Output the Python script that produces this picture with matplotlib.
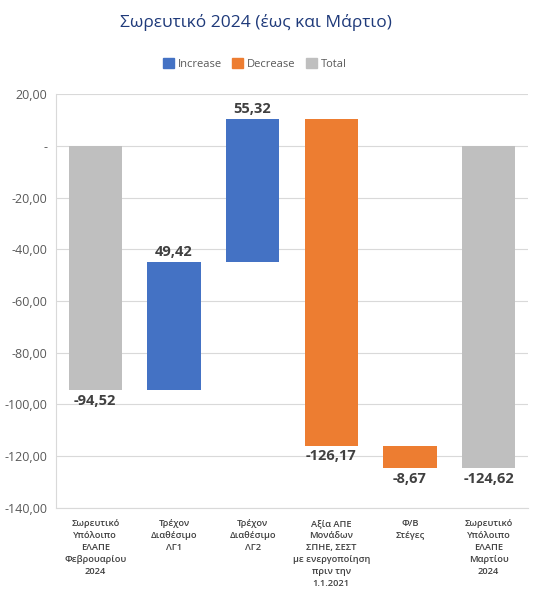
import matplotlib
matplotlib.use("Agg")
import matplotlib.pyplot as plt
import numpy as np
from matplotlib.patches import Patch

plt.rcParams['font.family'] = ['Open Sans', 'DejaVu Sans']

categories = ["Σωρευτικό\nΥπόλοιπο\nΕΛΑΠΕ\nΦεβρουαρίου\n2024",
              "Τρέχον\nΔιαθέσιμο\nΛΓ1",
              "Τρέχον\nΔιαθέσιμο\nΛΓ2",
              "Αξία ΑΠΕ\nΜονάδων\nΣΠΗΕ, ΣΕΣΤ\nμε ενεργοποίηση\nπριν την\n1.1.2021",
              "Φ/Β\nΣτέγες",
              "Σωρευτικό\nΥπόλοιπο\nΕΛΑΠΕ\nΜαρτίου\n2024"]
values = [-94.52, 49.42, 55.32, -126.17, -8.67, -124.62]
kinds = ["total", "increase", "increase", "decrease", "decrease", "total"]
yticks = [20, 0, -20, -40, -60, -80, -100, -120, -140]
ytick_labels = ["20,00", "-", "-20,00", "-40,00", "-60,00", "-80,00", "-100,00", "-120,00", "-140,00"]

colors = {"increase": "#4472C4", "decrease": "#ED7D31", "total": "#BFBFBF"}

fig = plt.figure(figsize=(5.54, 5.99), dpi=100)
ax = fig.add_axes([0.101, 0.152, 0.852, 0.691])

x = np.arange(len(values))
running = 0.0
for i, (v, k) in enumerate(zip(values, kinds)):
    if k == "total":
        bottom, height = 0, v
        running = v
        label_y = v
        va = "top"
    else:
        bottom, height = running, v
        running = running + v
        label_y = running
        va = "bottom" if v >= 0 else "top"
    ax.bar(i, height, bottom=bottom, width=0.68, color=colors[k], zorder=3)
    txt = f"{v:.2f}".replace(".", ",")
    off = 2.5 if va == "bottom" else -2.5
    ax.annotate(txt, (i, label_y), xytext=(0, off), textcoords="offset points",
                ha="center", va=va, fontsize=10.5, fontweight="bold", color="#404040")

ax.set_xlim(-0.5, len(values) - 0.5)
ax.set_ylim(-140, 20)
ax.set_yticks(yticks)
ax.set_yticklabels(ytick_labels, fontsize=9, color="#595959")
ax.set_xticks(x)
ax.set_xticklabels(categories, fontsize=6.7, color="#404040", linespacing=1.42, fontweight="semibold")
ax.tick_params(axis="both", length=0, pad=6)
ax.tick_params(axis="x", pad=8)
ax.grid(axis="y", color="#D9D9D9", linewidth=0.8, zorder=0)
for s in ["top", "right"]:
    ax.spines[s].set_visible(False)
ax.spines["left"].set_color("#D9D9D9")
ax.spines["bottom"].set_color("#D9D9D9")

fig.text(0.462, 0.962, "Σωρευτικό 2024 (έως και Μάρτιο)", ha="center", va="center",
         fontsize=12.5, color="#1F3A7A")

handles = [Patch(color=colors["increase"], label="Increase"),
           Patch(color=colors["decrease"], label="Decrease"),
           Patch(color=colors["total"], label="Total")]
leg = fig.legend(handles=handles, loc="center", bbox_to_anchor=(0.46, 0.893), ncol=3,
                 frameon=False, fontsize=8, handlelength=1.0, handleheight=1.0,
                 handletextpad=0.35, columnspacing=0.9)
for t in leg.get_texts():
    t.set_color("#595959")

fig.savefig("out.png", dpi=100)
